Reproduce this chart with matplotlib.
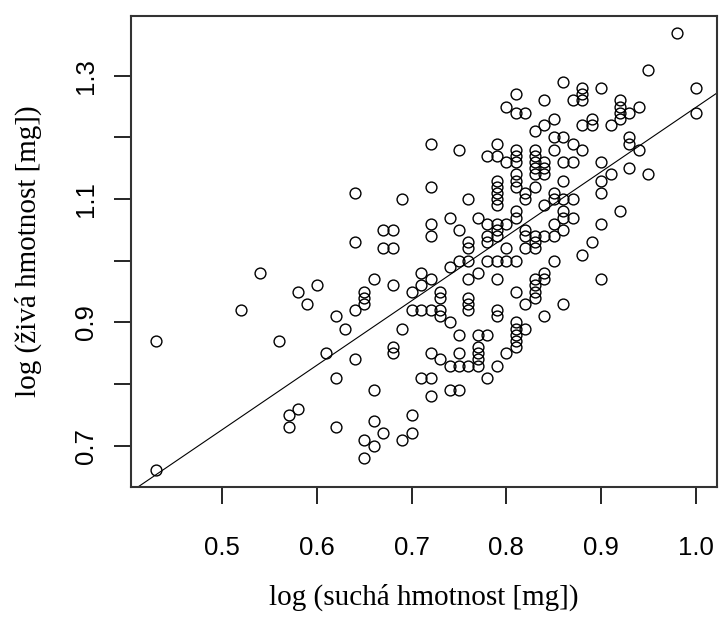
import matplotlib
matplotlib.use("Agg")
import matplotlib.pyplot as plt

# suchá hmotnost (log) – one entry per column of measurements
sucha = [0.43, 0.52, 0.54, 0.56, 0.57, 0.58, 0.59, 0.60, 0.61, 0.62, 0.63,
         0.64, 0.65, 0.66, 0.67, 0.68, 0.69, 0.70, 0.71, 0.72, 0.73, 0.74,
         0.75, 0.76, 0.77, 0.78, 0.79, 0.80, 0.81, 0.82, 0.83, 0.84, 0.85,
         0.86, 0.87, 0.88, 0.89, 0.90, 0.91, 0.92, 0.93, 0.94, 0.95, 0.98,
         1.00]

# živá hmotnost (log) for each value of suchá hmotnost above
ziva = [
    [0.87, 0.66],
    [0.92],
    [0.98],
    [0.87],
    [0.75, 0.73],
    [0.76, 0.95],
    [0.93],
    [0.96],
    [0.85],
    [0.91, 0.81, 0.73],
    [0.89],
    [1.11, 1.03, 0.92, 0.84],
    [0.95, 0.94, 0.93, 0.71, 0.68],
    [0.97, 0.79, 0.74, 0.70],
    [1.05, 1.02, 0.72],
    [1.05, 1.02, 0.96, 0.86, 0.85],
    [1.10, 0.89, 0.71],
    [0.95, 0.92, 0.75, 0.72],
    [0.98, 0.96, 0.92, 0.81],
    [1.19, 1.12, 1.06, 1.04, 0.97, 0.92, 0.85, 0.81, 0.78],
    [0.95, 0.94, 0.92, 0.91, 0.84],
    [1.07, 0.99, 0.90, 0.83, 0.79],
    [1.18, 1.05, 1.00, 0.88, 0.85, 0.83, 0.79],
    [1.10, 1.03, 1.02, 1.00, 0.97, 0.94, 0.93, 0.92, 0.83],
    [1.07, 0.98, 0.88, 0.86, 0.85, 0.84, 0.83],
    [1.17, 1.06, 1.04, 1.03, 1.00, 0.88, 0.81],
    [1.19, 1.17, 1.13, 1.12, 1.11, 1.10, 1.09, 1.06, 1.05, 1.04, 1.00, 0.97,
     0.92, 0.91, 0.83],
    [1.25, 1.16, 1.06, 1.02, 1.00, 0.85],
    [1.27, 1.24, 1.18, 1.17, 1.16, 1.14, 1.13, 1.12, 1.08, 1.07, 1.00, 0.95,
     0.90, 0.89, 0.88, 0.87, 0.86],
    [1.24, 1.11, 1.10, 1.05, 1.04, 1.02, 0.93, 0.89],
    [1.21, 1.18, 1.17, 1.16, 1.15, 1.14, 1.12, 1.04, 1.03, 1.02, 0.97, 0.96,
     0.95, 0.94],
    [1.26, 1.22, 1.16, 1.15, 1.14, 1.09, 1.04, 0.98, 0.97, 0.91],
    [1.23, 1.20, 1.18, 1.11, 1.10, 1.06, 1.04, 1.00],
    [1.29, 1.20, 1.16, 1.13, 1.10, 1.08, 1.07, 1.05, 0.93],
    [1.26, 1.19, 1.16, 1.10, 1.07],
    [1.28, 1.27, 1.26, 1.22, 1.18, 1.01],
    [1.23, 1.22, 1.03],
    [1.28, 1.16, 1.13, 1.11, 1.06, 0.97],
    [1.22, 1.14],
    [1.26, 1.25, 1.24, 1.23, 1.08],
    [1.24, 1.20, 1.19, 1.15],
    [1.25, 1.18],
    [1.31, 1.14],
    [1.37],
    [1.28, 1.24],
]

# regression line log(živá) = a + b * log(suchá)
intercept = 0.2035
slope = 1.045

x_ticks = [0.5, 0.6, 0.7, 0.8, 0.9, 1.0]
y_ticks = [0.7, 0.8, 0.9, 1.0, 1.1, 1.2, 1.3]
y_tick_labels = ["0.7", "", "0.9", "", "1.1", "", "1.3"]

xs = []
ys = []
for x, col in zip(sucha, ziva):
    for y in col:
        xs.append(x)
        ys.append(y)

fig = plt.figure(figsize=(7.19, 6.17), dpi=100)
ax = fig.add_axes([0.1826, 0.2107, 0.8146, 0.7634])

ax.plot(xs, ys, linestyle="none", marker="o", markersize=7.8,
        markerfacecolor="none", markeredgecolor="black", markeredgewidth=1.0)
ax.axline((0, intercept), slope=slope, color="black", linewidth=0.8)

ax.set_xlim(0.404, 1.0224)
ax.set_ylim(0.633, 1.3968)

ax.set_xticks(x_ticks)
ax.set_xticklabels(["%.1f" % t for t in x_ticks], fontsize=18.5,
                   family="Liberation Sans")
ax.set_yticks(y_ticks)
ax.set_yticklabels(y_tick_labels, fontsize=18.5, family="Liberation Sans",
                   rotation=90, va="center")
ax.tick_params(axis="x", length=12, width=1.2, pad=23)
ax.tick_params(axis="y", length=12, width=1.2, pad=12)

for side in ax.spines.values():
    side.set_linewidth(1.5)
    side.set_color("#333333")

ax.text(0.5, -0.2335, "log (suchá hmotnost [mg])", transform=ax.transAxes,
        ha="center", va="center", fontsize=21, family="Liberation Serif")
ax.text(-0.175, 0.5, "log (živá hmotnost [mg])", transform=ax.transAxes,
        ha="center", va="center", rotation=90, fontsize=21,
        family="Liberation Serif")

fig.savefig("out.png", dpi=100)
